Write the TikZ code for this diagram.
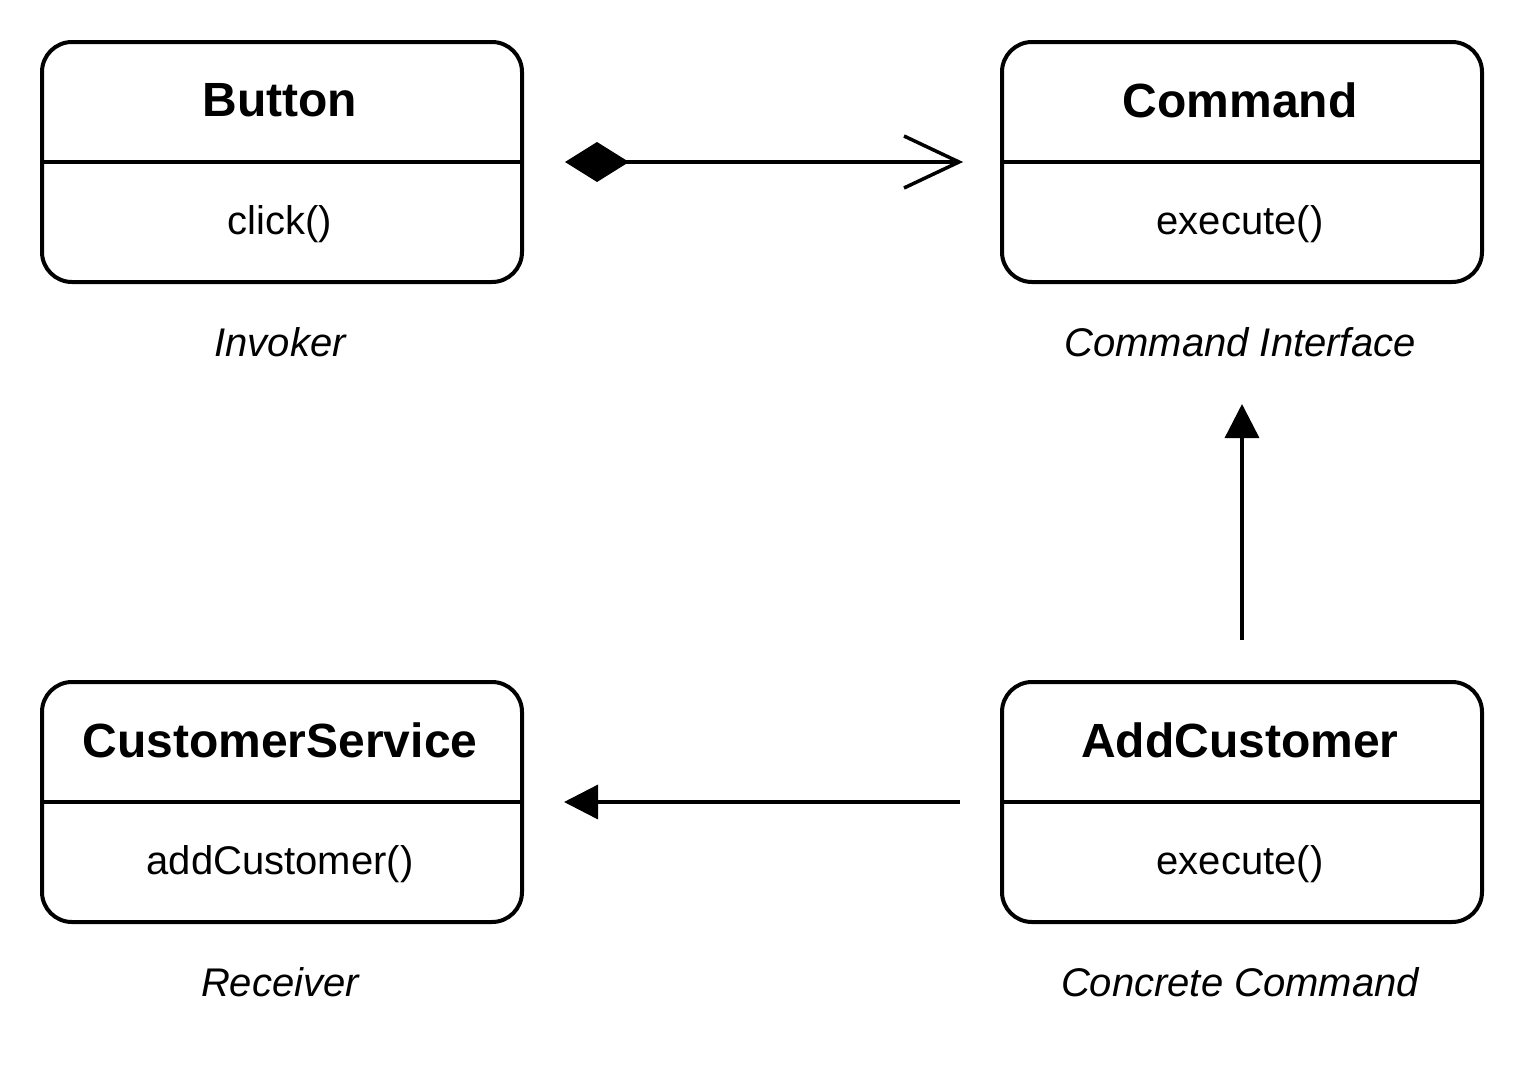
\documentclass[tikz,border=0pt]{standalone}
\usepackage{fontspec}
\setmainfont{Liberation Sans}
\usetikzlibrary{arrows.meta}
\begin{document}
\begin{tikzpicture}[x=1pt,y=-1pt,
  classbox/.style={draw, line width=4pt, rounded corners=30pt, minimum width=480pt, minimum height=240pt, inner sep=0pt},
  titletext/.style={font=\fontsize{48}{58}\selectfont\bfseries},
  methodtext/.style={font=\fontsize{40}{48}\selectfont},
  roletext/.style={font=\fontsize{40}{48}\selectfont\itshape},
  conn/.style={line width=3.5pt}]
\useasboundingbox (0,0) rectangle (1528,1084);
% boxes
\node[classbox] (btn) at (282,162) {};
\node[classbox] (cmd) at (1242,162) {};
\node[classbox] (cs) at (282,802) {};
\node[classbox] (ac) at (1242,802) {};
\foreach \b in {btn,cmd,cs,ac} \draw[line width=3.5pt] (\b.west) -- (\b.east);
% texts
\node[titletext] (btnT) at (280,100) {Button};
\node[methodtext] (btnM) at (280,224) {click()};
\node[roletext] (btnR) at (280,342) {Invoker};
\node[titletext] (cmdT) at (1240,100) {Command};
\node[methodtext] (cmdM) at (1240,224) {execute()};
\node[roletext] (cmdR) at (1240,342) {Command Interface};
\node[titletext] (csT) at (280,740) {CustomerService};
\node[methodtext] (csM) at (280,864) {addCustomer()};
\node[roletext] (csR) at (280,982) {Receiver};
\node[titletext] (acT) at (1240,740) {AddCustomer};
\node[methodtext] (acM) at (1240,864) {execute()};
\node[roletext] (acR) at (1240,982) {Concrete Command};
% connectors
\coordinate (tip) at ([xshift=-41pt]cmd.west);
\draw[conn, {Diamond[length=64pt,width=40pt]}-, shorten <=41pt] (btn.east) -- (tip);
\draw[conn, line join=miter, miter limit=10] (tip) ++(-55,-26) -- (tip) -- ++(-55,26);
\draw[conn, -{Triangle[length=34pt,width=34pt]}, shorten <=40pt, shorten >=120pt] (ac.north) -- (cmd.south);
\draw[conn, -{Triangle[length=34pt,width=34pt]}, shorten <=40pt, shorten >=40pt] (ac.west) -- (cs.east);
\end{tikzpicture}
\end{document}
